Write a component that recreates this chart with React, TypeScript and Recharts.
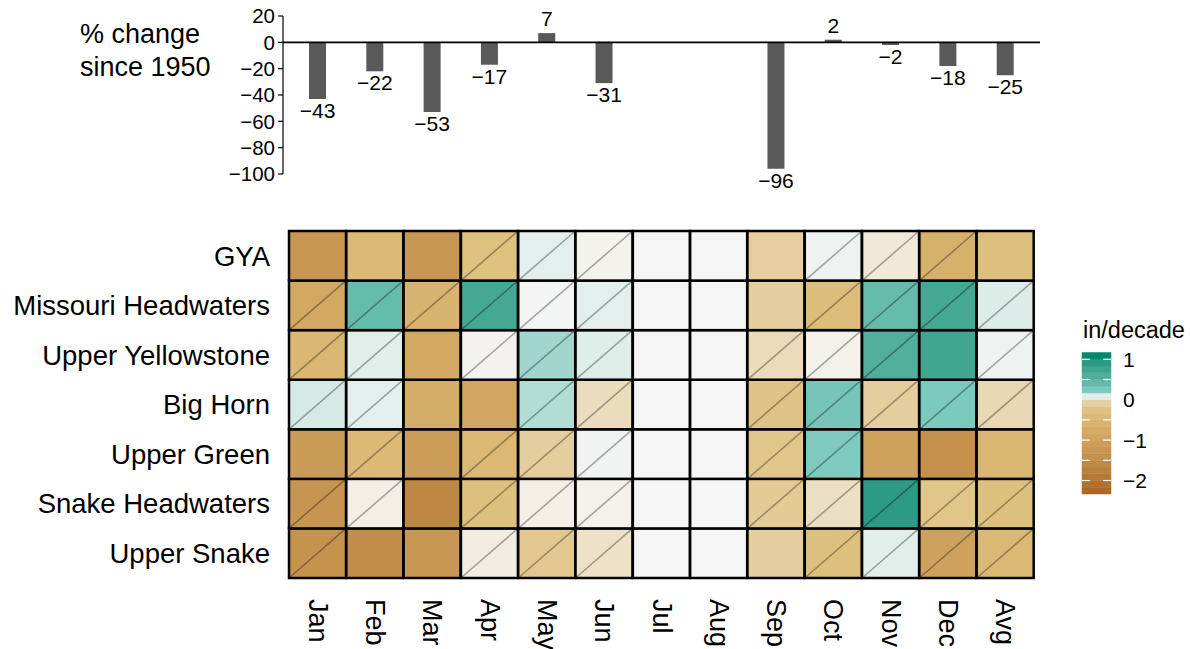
import React from 'react';
import {
  BarChart,
  Bar,
  XAxis,
  YAxis,
  ReferenceLine,
  ReferenceArea,
  LabelList,
  ComposedChart,
  Line,
} from 'recharts';

const FONT = '"Liberation Sans", Arial, Helvetica, sans-serif';

// months / columns
const months = ['Jan', 'Feb', 'Mar', 'Apr', 'May', 'Jun', 'Jul', 'Aug', 'Sep', 'Oct', 'Nov', 'Dec', 'Avg'];

// % change since 1950 (top panel)
const pctChange = [-43, -22, -53, -17, 7, -31, null, null, -96, 2, -2, -18, -25];
const pctTicks = [-100, -80, -60, -40, -20, 0, 20];

// regions, top to bottom
const regions = [
  'GYA',
  'Missouri Headwaters',
  'Upper Yellowstone',
  'Big Horn',
  'Upper Green',
  'Snake Headwaters',
  'Upper Snake',
];
const rowTicks = [0.5, 1.5, 2.5, 3.5, 4.5, 5.5, 6.5];

// trend, in/decade (null = no data)
const trendGYA = [-1.25, -0.42, -1.25, -0.28, 0.07, -0.008, null, null, -0.09, 0.03, -0.03, -0.63, -0.32];
const trendMissouri = [-0.85, 0.4, -0.55, 0.69, 0.01, 0.07, null, null, -0.1, -0.36, 0.4, 0.69, 0.09];
const trendYellowstone = [-0.5, 0.08, -0.85, -0.006, 0.19, 0.085, null, null, -0.058, -0.01, 0.57, 0.74, 0.03];
const trendBigHorn = [0.1, 0.07, -0.73, -0.9, 0.16, -0.055, null, null, -0.22, 0.29, -0.1, 0.25, -0.065];
const trendUpperGreen = [-1.15, -0.42, -1.1, -0.45, -0.1, 0.02, null, null, -0.2, 0.245, -1.03, -1.42, -0.52];
const trendSnakeHead = [-1.3, -0.015, -1.6, -0.3, -0.015, -0.01, null, null, -0.14, -0.05, 0.92, -0.2, -0.3];
const trendUpperSnake = [-1.35, -1.5, -1.25, -0.02, -0.17, -0.045, null, null, -0.1, -0.3, 0.08, -1.0, -0.45];
const trends = [trendGYA, trendMissouri, trendYellowstone, trendBigHorn, trendUpperGreen, trendSnakeHead, trendUpperSnake];

// 1 = cell gets the diagonal stroke
const diagGYA = [0, 0, 0, 1, 1, 1, 0, 0, 0, 1, 1, 1, 0];
const diagMissouri = [1, 1, 1, 1, 1, 1, 0, 0, 0, 1, 1, 1, 1];
const diagYellowstone = [1, 1, 0, 1, 1, 1, 0, 0, 1, 1, 1, 0, 1];
const diagBigHorn = [1, 1, 0, 0, 1, 1, 0, 0, 1, 1, 1, 1, 1];
const diagUpperGreen = [0, 1, 0, 1, 1, 1, 0, 0, 1, 1, 0, 0, 0];
const diagSnakeHead = [1, 1, 0, 1, 1, 1, 0, 0, 1, 1, 1, 1, 1];
const diagUpperSnake = [1, 0, 0, 1, 1, 1, 0, 0, 0, 1, 1, 1, 1];
const diags = [diagGYA, diagMissouri, diagYellowstone, diagBigHorn, diagUpperGreen, diagSnakeHead, diagUpperSnake];

// colour scale
const scaleStops = [
  -2.333, -2.25, -2.083, -1.917, -1.75, -1.583, -1.417, -1.25, -1.083, -0.917, -0.75, -0.583, -0.417,
  -0.25, -0.083, -0.03, 0, 0.03, 0.083, 0.25, 0.417, 0.583, 0.75, 0.917, 1.083, 1.167,
];
const scaleColors = [
  '#A6611A', '#AB6724', '#B1702E', '#B67836', '#BB803E', '#BF8845', '#C4904C', '#C89753', '#CC9E5A',
  '#D0A561', '#D4AC67', '#D8B36E', '#DCBA76', '#DFC281', '#E6CFA0', '#F1E8D8', '#F5F5F5', '#EEF2F1',
  '#E0EEEA', '#7CC9BD', '#63BAA8', '#50AE9A', '#3FA58F', '#2E9A85', '#00876F', '#00846C',
];

// legend
const legendBandLows = [
  -2.333, -2.167, -2, -1.833, -1.667, -1.5, -1.333, -1.167, -1, -0.833, -0.667, -0.5, -0.333, -0.167,
  0, 0.167, 0.333, 0.5, 0.667, 0.833, 1,
];
const legendTicks = [-2, -1, 0, 1];
const legendDashes = [1, 0.5, -0.5, -1, -1.5, -2];

const hexToRgb = (h: string) => [1, 3, 5].map((i) => parseInt(h.slice(i, i + 2), 16));

function colorScale(v: number) {
  if (v <= scaleStops[0]) return scaleColors[0];
  const last = scaleStops.length - 1;
  if (v >= scaleStops[last]) return scaleColors[last];
  let i = 0;
  while (v > scaleStops[i + 1]) i++;
  const t = (v - scaleStops[i]) / (scaleStops[i + 1] - scaleStops[i]);
  const a = hexToRgb(scaleColors[i]);
  const b = hexToRgb(scaleColors[i + 1]);
  const c = a.map((x, k) => Math.round(x + (b[k] - x) * t));
  return `rgb(${c[0]},${c[1]},${c[2]})`;
}

const fmt = (v: number) => (v < 0 ? `\u2212${Math.abs(v)}` : `${v}`);

const pctRows = months.map((m, i) => ({ month: m, pct: pctChange[i] }));

const heatRows = months.map((m) => {
  const row: any = { month: m };
  regions.forEach((_, j) => {
    row[`r${j}`] = 1;
  });
  return row;
});

const BarValueLabel = (props: any) => {
  const { value } = props;
  if (value == null) return null;
  const vb = props.viewBox || {};
  const x = Number(props.x ?? vb.x);
  const y = Number(props.y ?? vb.y);
  const w = Number(props.width ?? vb.width);
  const h = Number(props.height ?? vb.height);
  const top = Math.min(y, y + h);
  const bottom = Math.max(y, y + h);
  const ty = value < 0 ? bottom + 19 : top - 7;
  return (
    <text x={x + w / 2} y={ty} textAnchor="middle" fontSize={21} fontFamily={FONT} fill="#000">
      {fmt(value)}
    </text>
  );
};

const HeatCell = (props: any) => {
  const { x, y, width, height, row } = props;
  const col = props.index ?? months.indexOf(props.payload?.month);
  const v = trends[row][col];
  const fill = v == null ? '#F5F5F5' : colorScale(v);
  return (
    <g>
      <rect x={x} y={y} width={width} height={height} fill={fill} />
      {diags[row][col] === 1 && (
        <line x1={x} y1={y + height} x2={x + width} y2={y} stroke="rgba(0,0,0,0.32)" strokeWidth={1.6} />
      )}
      <rect x={x} y={y} width={width} height={height} fill="none" stroke="#000" strokeWidth={2.5} />
    </g>
  );
};

const MonthTick = (props: any) => {
  const { x, y, payload } = props;
  return (
    <text
      x={x}
      y={y}
      transform={`rotate(90 ${x} ${y})`}
      textAnchor="start"
      dominantBaseline="central"
      fontSize={27}
      fontFamily={FONT}
      fill="#000"
    >
      {payload.value}
    </text>
  );
};

export default function App() {
  const stackOrder = regions.map((_, j) => j).reverse(); // bottom row first
  return (
    <div style={{ position: 'absolute', left: 0, top: 0, width: 1190, height: 649, background: '#fff', fontFamily: FONT }}>
      <svg style={{ position: 'absolute', left: 0, top: 0 }} width={260} height={100}>
        <text x={80} y={43} fontSize={27} fontFamily={FONT} fill="#000">% change</text>
        <text x={80} y={76} fontSize={27} fontFamily={FONT} fill="#000">since 1950</text>
      </svg>

      <div style={{ position: 'absolute', left: 0, top: 0 }}>
        <BarChart width={1190} height={200} data={pctRows} margin={{ top: 16, right: 150, bottom: 26, left: 0 }} barCategoryGap={0}>
          <XAxis dataKey="month" hide padding={{ left: 6, right: 6 }} />
          <XAxis xAxisId="full" type="number" domain={[0, 1]} hide allowDataOverflow />
          <YAxis
            domain={[-100, 20]}
            ticks={pctTicks}
            width={283}
            tickSize={5}
            tickMargin={3}
            interval={0}
            allowDataOverflow
            axisLine={{ stroke: '#000', strokeWidth: 1.2 }}
            tickLine={{ stroke: '#000', strokeWidth: 1.2 }}
            tickFormatter={fmt}
            tick={{ fontSize: 20.5, fill: '#000', fontFamily: FONT }}
          />
          <ReferenceLine y={0} xAxisId="full" stroke="#000" strokeWidth={1.6} />
          <Bar dataKey="pct" fill="#595959" barSize={17} isAnimationActive={false}>
            <LabelList dataKey="pct" content={BarValueLabel} />
          </Bar>
        </BarChart>
      </div>

      <div style={{ position: 'absolute', left: 0, top: 215 }}>
        <BarChart width={1190} height={434} data={heatRows} margin={{ top: 16, right: 156, bottom: 0, left: 0 }} barCategoryGap={0} barGap={0}>
          <XAxis dataKey="month" height={71} tickSize={0} tickMargin={21} axisLine={false} tickLine={false} interval={0} tick={<MonthTick />} />
          <YAxis
            type="number"
            domain={[0, 7]}
            ticks={rowTicks}
            width={289}
            tickSize={0}
            tickMargin={19}
            axisLine={false}
            tickLine={false}
            interval={0}
            tickFormatter={(t: number) => regions[6 - Math.floor(t)]}
            tick={{ fontSize: 27.5, fill: '#000', fontFamily: FONT }}
          />
          {stackOrder.map((j) => (
            <Bar
              key={regions[j]}
              dataKey={`r${j}`}
              stackId="grid"
              isAnimationActive={false}
              shape={(p: any) => <HeatCell {...p} row={j} />}
            />
          ))}
        </BarChart>
      </div>

      <svg style={{ position: 'absolute', left: 1070, top: 305 }} width={120} height={40}>
        <text x={13} y={33} fontSize={23.5} fontFamily={FONT} fill="#000">in/decade</text>
      </svg>

      <div style={{ position: 'absolute', left: 1070, top: 340 }}>
        <ComposedChart width={120} height={170} data={[{ x: 0, y: 0 }, { x: 1, y: 0 }]} margin={{ top: 12.5, right: 29, bottom: 16, left: 12 }}>
          <XAxis dataKey="x" type="number" domain={[0, 1]} hide />
          <YAxis
            orientation="right"
            type="number"
            domain={[-2.333, 1.167]}
            ticks={legendTicks}
            width={50}
            tickSize={0}
            tickMargin={12}
            axisLine={false}
            tickLine={false}
            interval={0}
            allowDataOverflow
            tickFormatter={fmt}
            tick={{ fontSize: 21, fill: '#000', fontFamily: FONT }}
          />
          {legendBandLows.map((lo) => (
            <ReferenceArea
              key={lo}
              y1={lo}
              y2={lo + 0.1667}
              fill={colorScale(lo + 0.0833)}
              fillOpacity={1}
              stroke={colorScale(lo + 0.0833)}
              strokeWidth={0.5}
              ifOverflow="visible"
            />
          ))}
          {legendDashes.map((d) => (
            <ReferenceLine key={`l${d}`} segment={[{ x: 0, y: d }, { x: 0.27, y: d }]} stroke="#fff" strokeWidth={1.2} />
          ))}
          {legendDashes.map((d) => (
            <ReferenceLine key={`r${d}`} segment={[{ x: 0.73, y: d }, { x: 1, y: d }]} stroke="#fff" strokeWidth={1.2} />
          ))}
          <Line dataKey="y" stroke="none" dot={false} isAnimationActive={false} />
        </ComposedChart>
      </div>
    </div>
  );
}
